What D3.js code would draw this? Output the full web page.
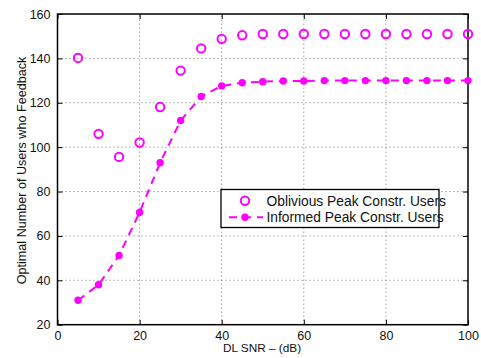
<!DOCTYPE html>
<html>
<head>
<meta charset="utf-8">
<script src="https://cdn.jsdelivr.net/npm/d3@7"></script>
<style>
  body { margin: 0; background: white; }
  text { font-family: "Liberation Sans", Arial, sans-serif; }
</style>
</head>
<body>
<div id="container"></div>
<script>
const MAGENTA = '#ff00ff'

var snr = [5, 10, 15, 20, 25, 30, 35, 40, 45, 50, 55, 60, 65, 70, 75, 80, 85, 90, 95, 100]
var oblivious = [140.2, 106, 95.6, 102.1, 118.1, 134.5, 144.5, 148.8, 150.4, 151, 151, 151, 151, 151, 151, 151, 151, 151, 151, 151]
var informed = [31, 38, 51.2, 70.6, 93, 112, 122.8, 127.6, 129, 129.5, 129.8, 129.8, 130, 130, 130, 130, 130, 130, 130, 130]
var xTicks = [0, 20, 40, 60, 80, 100]
var yTicks = [20, 40, 60, 80, 100, 120, 140, 160]
var legendLabels = ['Oblivious Peak Constr. Users', 'Informed Peak Constr. Users']

var W = 481, H = 358
var m = {left: 57.5, right: 13, top: 14, bottom: 33.3}

var svg = d3.select('#container').append('svg')
    .attr('width', W)
    .attr('height', H)

var x = d3.scaleLinear().domain([0, 100]).range([m.left, W - m.right])
var y = d3.scaleLinear().domain([20, 160]).range([H - m.bottom, m.top])

// grid
svg.append('g').selectAll('line.gx')
    .data(xTicks.slice(1, -1)).enter().append('line')
    .attr('x1', d => x(d)).attr('x2', d => x(d))
    .attr('y1', y(20)).attr('y2', y(160))
    .attr('stroke', '#555').attr('stroke-width', 0.8)
    .attr('stroke-dasharray', '1,3')
svg.append('g').selectAll('line.gy')
    .data(yTicks.slice(1, -1)).enter().append('line')
    .attr('x1', x(0)).attr('x2', x(100))
    .attr('y1', d => y(d)).attr('y2', d => y(d))
    .attr('stroke', '#555').attr('stroke-width', 0.8)
    .attr('stroke-dasharray', '1,3')

// axes, ticks inward
var xAxis = d3.axisBottom(x).tickValues(xTicks).tickSize(-5).tickPadding(6)
var yAxis = d3.axisLeft(y).tickValues(yTicks).tickSize(-5).tickPadding(7)
var xAxisTop = d3.axisTop(x).tickValues(xTicks).tickSize(-5).tickFormat('')
var yAxisRight = d3.axisRight(y).tickValues(yTicks).tickSize(-5).tickFormat('')

function styleAxis(g) {
    g.select('.domain').remove()
    g.selectAll('line').attr('stroke', '#000').attr('stroke-width', 1)
    g.selectAll('text').attr('font-size', 12.5).attr('fill', '#111')
        .style('font-family', '"Liberation Sans", Arial, sans-serif')
}
svg.append('g').attr('transform', 'translate(0,' + y(20) + ')').call(xAxis).call(styleAxis)
svg.append('g').attr('transform', 'translate(' + x(0) + ',0)').call(yAxis).call(styleAxis)
svg.append('g').attr('transform', 'translate(0,' + y(160) + ')').call(xAxisTop).call(styleAxis)
svg.append('g').attr('transform', 'translate(' + x(100) + ',0)').call(yAxisRight).call(styleAxis)

svg.append('rect')
    .attr('x', x(0)).attr('y', y(160))
    .attr('width', x(100) - x(0)).attr('height', y(20) - y(160))
    .attr('fill', 'none').attr('stroke', '#000').attr('stroke-width', 1.5)

// informed: dashed line + dots
var line = d3.line().x((d, i) => x(snr[i])).y(d => y(d))
svg.append('path')
    .datum(informed)
    .attr('d', line)
    .attr('fill', 'none')
    .attr('stroke', MAGENTA)
    .attr('stroke-width', 2)
    .attr('stroke-dasharray', '8,6')

svg.append('g').selectAll('circle')
    .data(informed).enter().append('circle')
    .attr('cx', (d, i) => x(snr[i]))
    .attr('cy', d => y(d))
    .attr('r', 3.7)
    .attr('fill', MAGENTA)

// oblivious: open circles
svg.append('g').selectAll('circle')
    .data(oblivious).enter().append('circle')
    .attr('cx', (d, i) => x(snr[i]))
    .attr('cy', d => y(d))
    .attr('r', 4.2)
    .attr('fill', 'none')
    .attr('stroke', MAGENTA)
    .attr('stroke-width', 2)

// labels
svg.append('text')
    .attr('x', 262).attr('y', 352)
    .attr('text-anchor', 'middle')
    .attr('font-size', 11.8)
    .attr('fill', '#111')
    .text('DL SNR – (dB)')

svg.append('text')
    .attr('transform', 'translate(25.5,170.5) rotate(-90)')
    .attr('text-anchor', 'middle')
    .attr('font-size', 12.6)
    .attr('fill', '#111')
    .text('Optimal Number of Users who Feedback')

// legend
var lg = svg.append('g').attr('transform', 'translate(221,189.5)')
lg.append('rect')
    .attr('width', 218).attr('height', 38)
    .attr('fill', 'white').attr('stroke', '#000').attr('stroke-width', 1.3)

lg.append('circle')
    .attr('cx', 24).attr('cy', 11.2)
    .attr('r', 4.2)
    .attr('fill', 'none').attr('stroke', MAGENTA).attr('stroke-width', 2)

lg.append('line')
    .attr('x1', 7).attr('x2', 42)
    .attr('y1', 27.8).attr('y2', 27.8)
    .attr('stroke', MAGENTA).attr('stroke-width', 2)
    .attr('stroke-dasharray', '8,6').attr('stroke-dashoffset', -1)
lg.append('circle')
    .attr('cx', 24).attr('cy', 27.8)
    .attr('r', 3.7)
    .attr('fill', MAGENTA)

lg.selectAll('text.leg')
    .data(legendLabels).enter().append('text')
    .attr('x', 45.5)
    .attr('y', (d, i) => 16.3 + i * 15.8)
    .attr('font-size', 13.8)
    .attr('fill', '#111')
    .text(d => d)
</script>
</body>
</html>
